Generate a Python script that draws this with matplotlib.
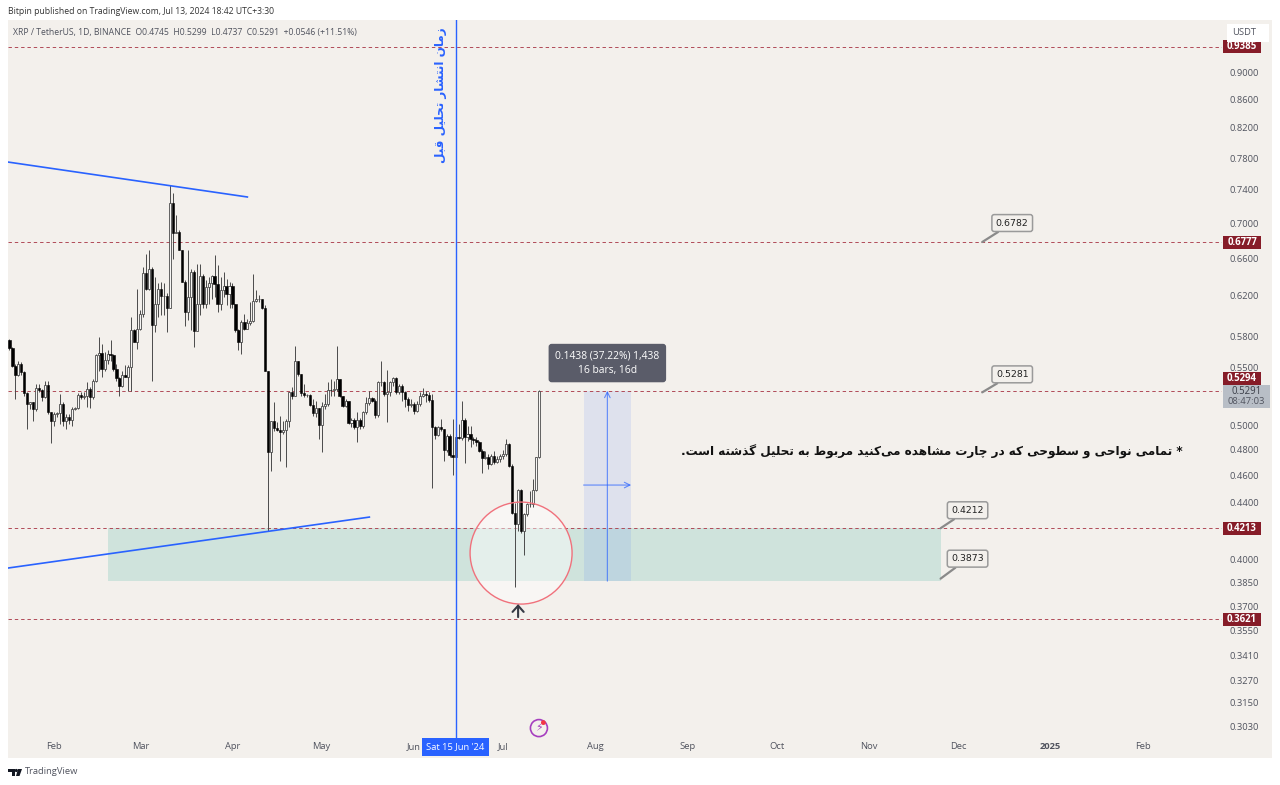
import matplotlib
matplotlib.use('Agg')
import matplotlib.pyplot as plt
import matplotlib.dates as mdates
import pandas as pd
from matplotlib.patches import Rectangle, Polygon, Circle

# daily candles (17 Jan 2024 .. 13 Jul 2024)
first_open = 0.5757
closes = [0.5684, 0.5515, 0.5440, 0.5537, 0.5460, 0.5273, 0.5180, 0.5193, 0.5136, 0.5320,
          0.5302, 0.5237, 0.5344, 0.5107, 0.5031, 0.5093, 0.5099, 0.5180, 0.5031, 0.5065,
          0.5045, 0.5136, 0.5145, 0.5261, 0.5237, 0.5252, 0.5307, 0.5243, 0.5379, 0.5624,
          0.5643, 0.5491, 0.5574, 0.5630, 0.5624, 0.5491, 0.5409, 0.5336, 0.5440, 0.5422,
          0.5506, 0.5861, 0.5747, 0.5864, 0.6019, 0.6445, 0.6268, 0.6481, 0.5912, 0.6120,
          0.6276, 0.6197, 0.6197, 0.6072, 0.7232, 0.6886, 0.6897, 0.6690, 0.6345, 0.6032,
          0.6187, 0.6450, 0.5844, 0.6113, 0.6406, 0.6113, 0.6293, 0.6330, 0.6406, 0.6320,
          0.6120, 0.6258, 0.6300, 0.6217, 0.6300, 0.6113, 0.5854, 0.5738, 0.5936, 0.5871,
          0.5930, 0.5943, 0.6147, 0.6171, 0.6171, 0.6078, 0.5476, 0.4783, 0.5031, 0.4976,
          0.4962, 0.4946, 0.4962, 0.5031, 0.5287, 0.5245, 0.5561, 0.5445, 0.5275, 0.5258,
          0.5258, 0.5174, 0.5099, 0.5145, 0.4998, 0.5165, 0.5180, 0.5304, 0.5300, 0.5311,
          0.5397, 0.5245, 0.5165, 0.5202, 0.5017, 0.5042, 0.4987, 0.5042, 0.4992, 0.5107,
          0.5186, 0.5229, 0.5208, 0.5088, 0.5370, 0.5370, 0.5266, 0.5280, 0.5370, 0.5409,
          0.5287, 0.5340, 0.5287, 0.5223, 0.5174, 0.5180, 0.5122, 0.5180, 0.5252, 0.5266,
          0.5258, 0.5217, 0.4987, 0.4921, 0.4981, 0.4968, 0.4797, 0.4911, 0.4759, 0.4744,
          0.4900, 0.4894, 0.5042, 0.4905, 0.4927, 0.4886, 0.4878, 0.4864, 0.4791, 0.4733,
          0.4744, 0.4691, 0.4752, 0.4706, 0.4725, 0.4752, 0.4763, 0.4850, 0.4675, 0.4323,
          0.4244, 0.4487, 0.4192, 0.4316, 0.4382, 0.4382, 0.4487, 0.4745, 0.5291]
highs = [0.5773, 0.5693, 0.5537, 0.5561, 0.5553, 0.5476, 0.5280, 0.5193, 0.5193, 0.5355,
         0.5355, 0.5311, 0.5385, 0.5385, 0.5107, 0.5107, 0.5107, 0.5266, 0.5193, 0.5093,
         0.5093, 0.5150, 0.5150, 0.5273, 0.5280, 0.5280, 0.5370, 0.5331, 0.5400, 0.5630,
         0.5789, 0.5725, 0.5646, 0.5662, 0.5757, 0.5630, 0.5537, 0.5415, 0.5476, 0.5523,
         0.5523, 0.5986, 0.5871, 0.6268, 0.6052, 0.6506, 0.6653, 0.6690, 0.6506, 0.6399,
         0.6330, 0.6345, 0.6330, 0.6228, 0.7456, 0.7354, 0.7092, 0.6917, 0.6690, 0.6363,
         0.6690, 0.6488, 0.6475, 0.6535, 0.6535, 0.6435, 0.6363, 0.6399, 0.6417, 0.6634,
         0.6524, 0.6399, 0.6450, 0.6381, 0.6345, 0.6330, 0.6120, 0.5871, 0.5952, 0.6019,
         0.5969, 0.6137, 0.6435, 0.6258, 0.6207, 0.6171, 0.6103, 0.5470, 0.5037, 0.5193,
         0.5023, 0.5080, 0.5037, 0.5051, 0.5287, 0.5325, 0.5709, 0.5568, 0.5445, 0.5355,
         0.5266, 0.5266, 0.5223, 0.5208, 0.5145, 0.5193, 0.5266, 0.5370, 0.5400, 0.5385,
         0.5700, 0.5400, 0.5252, 0.5223, 0.5208, 0.5060, 0.5060, 0.5107, 0.5060, 0.5122,
         0.5237, 0.5289, 0.5237, 0.5223, 0.5379, 0.5568, 0.5385, 0.5482, 0.5385, 0.5422,
         0.5415, 0.5355, 0.5355, 0.5296, 0.5237, 0.5223, 0.5193, 0.5208, 0.5280, 0.5320,
         0.5296, 0.5280, 0.5266, 0.4995, 0.4995, 0.5051, 0.4968, 0.4927, 0.4927, 0.5051,
         0.5051, 0.5009, 0.5208, 0.5060, 0.4995, 0.4995, 0.4900, 0.4900, 0.4872, 0.4805,
         0.4791, 0.4763, 0.4763, 0.4791, 0.4752, 0.4763, 0.4797, 0.4886, 0.4858, 0.4687,
         0.4395, 0.4494, 0.4494, 0.4323, 0.4395, 0.4482, 0.4570, 0.4745, 0.5299]
lows = [0.5662, 0.5506, 0.5223, 0.5430, 0.5440, 0.5252, 0.4968, 0.5136, 0.5037, 0.5122,
        0.5280, 0.5208, 0.5231, 0.5093, 0.4858, 0.4995, 0.5065, 0.5009, 0.4995, 0.4968,
        0.5009, 0.4995, 0.5128, 0.5136, 0.5223, 0.5223, 0.5150, 0.5145, 0.5223, 0.5370,
        0.5476, 0.5415, 0.5476, 0.5537, 0.5561, 0.5476, 0.5385, 0.5252, 0.5325, 0.5415,
        0.5296, 0.5296, 0.5740, 0.5675, 0.5854, 0.5986, 0.6258, 0.6258, 0.5385, 0.5837,
        0.5986, 0.6002, 0.6002, 0.5837, 0.6072, 0.6597, 0.6880, 0.6690, 0.6345, 0.5893,
        0.5952, 0.5854, 0.5693, 0.5986, 0.6002, 0.6078, 0.6078, 0.6120, 0.6171, 0.6187,
        0.6035, 0.6052, 0.6187, 0.6103, 0.6078, 0.6078, 0.5837, 0.5662, 0.5630, 0.5854,
        0.5871, 0.5903, 0.5936, 0.6137, 0.6137, 0.6069, 0.5470, 0.4192, 0.4634, 0.4954,
        0.4954, 0.4712, 0.4927, 0.4661, 0.4981, 0.5223, 0.5245, 0.5430, 0.5252, 0.5237,
        0.5237, 0.5165, 0.5080, 0.5065, 0.4886, 0.4785, 0.5136, 0.5165, 0.5252, 0.5252,
        0.5296, 0.5237, 0.5157, 0.5150, 0.5009, 0.4981, 0.4968, 0.4866, 0.4968, 0.4976,
        0.5093, 0.5174, 0.5193, 0.5060, 0.5065, 0.5340, 0.5252, 0.5023, 0.5252, 0.5340,
        0.5266, 0.5266, 0.5208, 0.5150, 0.5122, 0.5157, 0.5093, 0.5107, 0.5165, 0.5237,
        0.5193, 0.5193, 0.4505, 0.4886, 0.4913, 0.4954, 0.4712, 0.4785, 0.4744, 0.4602,
        0.4733, 0.4886, 0.4878, 0.4699, 0.4872, 0.4818, 0.4845, 0.4832, 0.4785, 0.4621,
        0.4725, 0.4648, 0.4681, 0.4687, 0.4699, 0.4706, 0.4725, 0.4752, 0.4665, 0.4311,
        0.3818, 0.4192, 0.4180, 0.4028, 0.4299, 0.4364, 0.4364, 0.4482, 0.4737]

price_ticks = [0.9, 0.86, 0.82, 0.78, 0.74, 0.70, 0.66, 0.62, 0.58, 0.55, 0.50, 0.48, 0.46,
               0.44, 0.40, 0.385, 0.37, 0.355, 0.341, 0.327, 0.315, 0.303]
level_prices = [0.9385, 0.6777, 0.5294, 0.4213, 0.3621]
month_ticks = ['2024-02-01', '2024-03-01', '2024-04-01', '2024-05-01', '2024-06-01', '2024-07-01',
               '2024-08-01', '2024-09-01', '2024-10-01', '2024-11-01', '2024-12-01', '2025-01-01',
               '2025-02-01']
month_labels = ['Feb', 'Mar', 'Apr', 'May', 'Jun', 'Jul', 'Aug', 'Sep', 'Oct', 'Nov', 'Dec', '2025', 'Feb']
callouts = [('2024-12-09', 0.6782, 30, 19), ('2024-12-09', 0.5281, 30, 18),
            ('2024-11-25', 0.4212, 27, 18), ('2024-11-25', 0.3873, 27, 20)]

W, H = 1280, 785
BG = '#f3f0ec'
GREY = '#50535e'
BLUE = '#2962ff'
MAROON = '#861c28'
plt.rcParams['font.family'] = ['Open Sans', 'DejaVu Sans']

# arabic letters -> (isolated, final, initial, medial) presentation forms
FORMS = {'ا': (0xFE8D, 0xFE8E), 'ب': (0xFE8F, 0xFE90, 0xFE91, 0xFE92), 'پ': (0xFB56, 0xFB57, 0xFB58, 0xFB59),
         'ت': (0xFE95, 0xFE96, 0xFE97, 0xFE98), 'چ': (0xFB7A, 0xFB7B, 0xFB7C, 0xFB7D),
         'ح': (0xFEA1, 0xFEA2, 0xFEA3, 0xFEA4), 'د': (0xFEA9, 0xFEAA), 'ذ': (0xFEAB, 0xFEAC),
         'ر': (0xFEAD, 0xFEAE), 'ز': (0xFEAF, 0xFEB0), 'س': (0xFEB1, 0xFEB2, 0xFEB3, 0xFEB4),
         'ش': (0xFEB5, 0xFEB6, 0xFEB7, 0xFEB8), 'ط': (0xFEC1, 0xFEC2, 0xFEC3, 0xFEC4),
         'ق': (0xFED5, 0xFED6, 0xFED7, 0xFED8), 'ک': (0xFB8E, 0xFB8F, 0xFB90, 0xFB91),
         'گ': (0xFB92, 0xFB93, 0xFB94, 0xFB95), 'ل': (0xFEDD, 0xFEDE, 0xFEDF, 0xFEE0),
         'م': (0xFEE1, 0xFEE2, 0xFEE3, 0xFEE4), 'ن': (0xFEE5, 0xFEE6, 0xFEE7, 0xFEE8),
         'و': (0xFEED, 0xFEEE), 'ه': (0xFEE9, 0xFEEA, 0xFEEB, 0xFEEC), 'ی': (0xFBFC, 0xFBFD, 0xFBFE, 0xFBFF)}


def shape(text):
    # matplotlib has no arabic shaping, so pick joined forms and reverse
    out = []
    for i, c in enumerate(text):
        if c not in FORMS:
            if c != '\u200c':
                out.append(c)
            continue
        f = FORMS[c]
        prev_c = text[i - 1] if i > 0 else ' '
        next_c = text[i + 1] if i + 1 < len(text) else ' '
        join_prev = prev_c in FORMS and len(FORMS[prev_c]) == 4
        join_next = len(f) == 4 and next_c in FORMS
        if join_prev and join_next:
            out.append(chr(f[3]))
        elif join_prev:
            out.append(chr(f[1]))
        elif join_next:
            out.append(chr(f[2]))
        else:
            out.append(chr(f[0]))
    return ''.join(reversed(out))


def px(n):
    return n * 0.72


def price_at(ypix):
    # only for furniture placed by pixel row, log scale of the chart
    return 0.9 * 2.718281828 ** (-(ypix - 72) / 600.8)


def d(s):
    return mdates.date2num(pd.Timestamp(s))


fig = plt.figure(figsize=(W / 100, H / 100), dpi=100, facecolor='white')
fig.add_artist(Rectangle((8 / W, 1 - 758 / H), 1264 / W, 738 / H, transform=fig.transFigure,
                         fc=BG, ec='none', zorder=-5))
ax = fig.add_axes([8 / W, 1 - 740 / H, 1214 / W, 720 / H])
ax.patch.set_alpha(0)
for s in ax.spines.values():
    s.set_visible(False)

ax.set_yscale('log')
ax.set_ylim(0.2961, 0.9814)
feb1 = d('2024-02-01')
ax.set_xlim(feb1 - 15.46, feb1 + 392.6)

# candles
dates = mdates.date2num(pd.date_range('2024-01-17', periods=len(closes)))
opens = [first_open] + closes[:-1]
opens[-1] = 0.4745
for x, o, h, l, c in zip(dates, opens, highs, lows, closes):
    ax.vlines(x, l, h, color='#4a4a4a', lw=0.7, zorder=3)
    if c >= o:
        ax.bar(x, c - o, bottom=o, width=0.7, fc='#f7f6f4', ec='#4a4a4a', lw=0.6, zorder=4)
    else:
        ax.bar(x, c - o, bottom=o, width=0.8, fc='black', ec='black', lw=0.4, zorder=4)

# zones
ax.fill_between([d('2024-02-19'), d('2024-11-25')], 0.3857, 0.4212, color='#cfe3dc', lw=0, zorder=1)
ax.fill_between([d('2024-07-28'), d('2024-08-13')], 0.3857, 0.5294, color=BLUE, alpha=0.1, lw=0, zorder=2)

# levels
for p in level_prices:
    ax.axhline(p, color='#b04a58', lw=0.7, dashes=(3.5, 3), zorder=2)
ax.axvline(d('2024-06-15'), color=BLUE, lw=1, zorder=5)

# trend lines
ax.plot([d('2024-01-16 12:00'), d('2024-04-06')], [0.7748, 0.7310], color=BLUE, lw=1.2, zorder=5)
ax.plot([d('2024-01-16 12:00'), d('2024-05-17')], [0.3942, 0.4291], color=BLUE, lw=1.2, zorder=5)

# measure arrows
ax.annotate('', xy=(d('2024-08-05'), 0.5294), xytext=(d('2024-08-05'), 0.3857), zorder=6,
            arrowprops=dict(arrowstyle='->', color=BLUE, lw=0.8, alpha=0.7, shrinkA=0, shrinkB=0))
ax.annotate('', xy=(d('2024-08-13'), 0.4526), xytext=(d('2024-07-28'), 0.4526), zorder=6,
            arrowprops=dict(arrowstyle='->', color=BLUE, lw=0.8, alpha=0.7, shrinkA=0, shrinkB=0))
ax.text(d('2024-08-05'), price_at(363), '0.1438 (37.22%) 1,438\n16 bars, 16d', color='white', fontsize=px(10.2),
        ha='center', va='center', linespacing=1.4, zorder=8,
        bbox=dict(boxstyle='round,pad=0.65,rounding_size=0.3', fc='#5a5c69', ec='none'))

# circle on the July low
cx, cy = ax.transData.transform((d('2024-07-07'), price_at(553)))
ax.add_patch(Circle((cx, cy), 51, transform=None, fc='white', alpha=0.45, ec='none', zorder=2.5))
ax.add_patch(Circle((cx, cy), 51, transform=None, fc='none', ec='#f0717c', lw=1, zorder=6))
ax.annotate('', xy=(d('2024-07-06'), price_at(604)), xytext=(d('2024-07-06'), price_at(617)), zorder=6,
            arrowprops=dict(arrowstyle='->,head_length=0.45,head_width=0.4', color='#363a45', lw=1.5,
                            shrinkA=0, shrinkB=0, mutation_scale=10))

# callouts
for day, val, ox, oy in callouts:
    ax.annotate(f'{val:.4f}', xy=(d(day), val), xytext=(ox, oy), textcoords='offset pixels', color='#222222',
                family='DejaVu Sans', fontsize=px(9.4), ha='center', va='center', zorder=8,
                bbox=dict(boxstyle='round,pad=0.42,rounding_size=0.25', fc=BG, ec='#9a9a9a', lw=1.1),
                arrowprops=dict(arrowstyle='-', color='#8a8a8a', lw=1.6, shrinkA=0, shrinkB=0))

# persian notes
ax.text(d('2024-06-10'), price_at(95), shape('زمان انتشار تحلیل قبل'), family='DejaVu Sans', weight='bold', color=BLUE,
        fontsize=px(12), rotation=90, ha='center', va='center', zorder=7)
ax.text(d('2024-11-22'), price_at(452),
        shape('* تمامی نواحی و سطوحی که در چارت مشاهده می\u200cکنید مربوط به تحلیل گذشته است.'),
        family='DejaVu Sans', weight='bold', color='#111111', fontsize=px(12), ha='center', va='center', zorder=7)

# axes
ax.set_xticks([d(m) for m in month_ticks], month_labels)
ax.yaxis.tick_right()
ax.set_yticks(price_ticks, [f'{p:.4f}' for p in price_ticks])
ax.minorticks_off()
ax.tick_params(axis='x', length=0, pad=px(2), labelsize=px(9.4), labelcolor=GREY)
ax.tick_params(axis='y', length=0, pad=px(8), labelsize=px(9.4), labelcolor=GREY)
ax.get_xticklabels()[11].set_fontweight('bold')

# price labels on the scale, 0.5294 is pushed up by the current price box
ytrans = ax.get_yaxis_transform()
xlab = 1 + 20 / 1214
for p in level_prices:
    ypos = price_at(378.5) if p == 0.5294 else p
    ypix = ytrans.transform((0, ypos))[1]
    ax.add_patch(Rectangle((1223, ypix - 6.5), 38, 13, transform=None, fc=MAROON, ec='none', zorder=9, clip_on=False))
    ax.text(xlab, ypos, f'{p:.4f}', transform=ytrans, color='white', fontsize=px(9.6), weight='bold', ha='center',
            va='center', clip_on=False, zorder=10)
ax.add_patch(Rectangle((1223, H - 408), 47, 23, transform=None, fc='#b8bec6', ec='none', zorder=9, clip_on=False))
ax.text(1 + 24.5 / 1214, price_at(391), '0.5291', transform=ytrans, color='#3a3d47', fontsize=px(9.6),
        ha='center', va='center', clip_on=False, zorder=10)
ax.text(1 + 24.5 / 1214, price_at(401.5), '08:47:03', transform=ytrans, color=GREY, fontsize=px(9.4),
        ha='center', va='center', clip_on=False, zorder=10)
ax.text(d('2024-06-15'), -7 / 720, "Sat 15 Jun '24", transform=ax.get_xaxis_transform(), color='white', fontsize=px(9.4),
        ha='center', va='center', clip_on=False, zorder=9,
        bbox=dict(boxstyle='square,pad=0.45', fc=BLUE, ec='none'))

# header and footer
fig.text(8 / W, 1 - 11.5 / H, 'Bitpin published on TradingView.com, Jul 13, 2024 18:42 UTC+3:30', color='#333333',
         fontsize=px(8.7), va='center')
ax.text(5 / 1214, 1 - 12 / 720, 'XRP / TetherUS, 1D, BINANCE  O0.4745  H0.5299  L0.4737  C0.5291  +0.0546 (+11.51%)',
        transform=ax.transAxes, color=GREY, fontsize=px(8.7), va='center')
fig.text(25 / W, 1 - 772 / H, 'TradingView', color='#50535e', fontsize=px(9.4), va='center')
for pts in ([(8, 769), (15, 769), (15, 776), (12, 776), (12, 772), (8, 772)],
            [(18, 769), (22, 769), (19.5, 776), (16, 776)]):
    fig.add_artist(Polygon([(a / W, 1 - b / H) for a, b in pts], transform=fig.transFigure, fc='#131722', ec='none'))
fig.add_artist(Circle((16.3, H - 770.5), 1.6, transform=None, fc='#131722', ec='none'))
fig.add_artist(Rectangle((1227 / W, 1 - 42 / H), 42 / W, 18 / H, transform=fig.transFigure, fc='white', ec='none', zorder=19))
fig.text(1244 / W, 1 - 32.5 / H, 'USDT', color=GREY, fontsize=px(9.4), ha='center', va='center', zorder=20)

# lightning badge
bx, by = d('2024-07-13'), price_at(728)
ax.scatter([bx], [by], s=150, fc='none', ec='#a63fbf', lw=1.2, zorder=6)
ax.text(bx, by, '\u26a1', family='DejaVu Sans', color='#a63fbf', fontsize=px(11), ha='center', va='center', zorder=7)
ax.scatter([bx + 1.5], [price_at(722.5)], s=12, fc='#f23645', ec='none', zorder=7)

fig.savefig('out.png', dpi=100)
